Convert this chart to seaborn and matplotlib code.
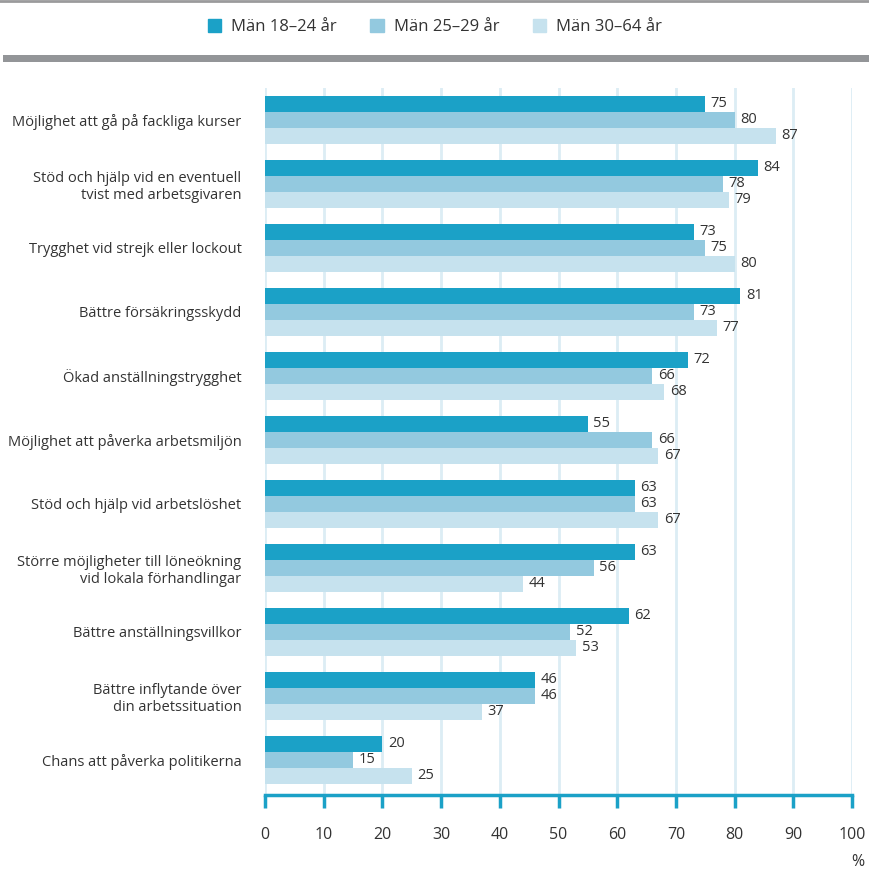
import matplotlib
matplotlib.use("Agg")
import matplotlib.pyplot as plt
import seaborn as sns
import pandas as pd
from matplotlib.patches import Rectangle
from matplotlib.lines import Line2D

categories = [
    "Möjlighet att gå på fackliga kurser",
    "Stöd och hjälp vid en eventuell\ntvist med arbetsgivaren",
    "Trygghet vid strejk eller lockout",
    "Bättre försäkringsskydd",
    "Ökad anställningstrygghet",
    "Möjlighet att påverka arbetsmiljön",
    "Stöd och hjälp vid arbetslöshet",
    "Större möjligheter till löneökning\nvid lokala förhandlingar",
    "Bättre anställningsvillkor",
    "Bättre inflytande över\ndin arbetssituation",
    "Chans att påverka politikerna",
]
series_names = ["Män 18–24 år", "Män 25–29 år", "Män 30–64 år"]
men_18_24 = [75, 84, 73, 81, 72, 55, 63, 63, 62, 46, 20]
men_25_29 = [80, 78, 75, 73, 66, 66, 63, 56, 52, 46, 15]
men_30_64 = [87, 79, 80, 77, 68, 67, 67, 44, 53, 37, 25]
x_ticks = [0, 10, 20, 30, 40, 50, 60, 70, 80, 90, 100]

colors = ["#1ba1c7", "#93c9df", "#c6e2ee"]
text_color = "#333333"
grid_color = "#dcedf4"
axis_color = "#1ba1c7"

df = pd.DataFrame({
    "kategori": categories * 3,
    "grupp": [series_names[0]] * 11 + [series_names[1]] * 11 + [series_names[2]] * 11,
    "andel": men_18_24 + men_25_29 + men_30_64,
})

plt.rcParams["font.family"] = ["Open Sans", "DejaVu Sans"]

fig = plt.figure(figsize=(8.69, 8.71), dpi=100)
ax = fig.add_axes([265 / 869, 1 - 795 / 871, (852 - 265) / 869, (795 - 88) / 871])

sns.barplot(data=df, y="kategori", x="andel", hue="grupp", palette=colors,
            orient="h", width=0.75, ax=ax, legend=False, saturation=1)

for container in ax.containers:
    ax.bar_label(container, padding=4, fontsize=10.5, color=text_color)

ax.set_xlim(0, 100)
ax.set_ylim(10.55, -0.5)
ax.set_xticks(x_ticks)
ax.set_xticklabels([str(t) for t in x_ticks])
ax.set_xlabel("")
ax.set_ylabel("")
ax.grid(axis="x", color=grid_color, linewidth=2)
ax.set_axisbelow(True)
for s in ["top", "right", "left"]:
    ax.spines[s].set_visible(False)
ax.spines["bottom"].set_color(axis_color)
ax.spines["bottom"].set_linewidth(2.5)
ax.tick_params(axis="x", direction="out", length=9, width=2.5, color=axis_color,
               labelsize=11.5, labelcolor=text_color, pad=14)
ax.tick_params(axis="y", length=0, labelsize=10.5, labelcolor=text_color, pad=17)
for lab in ax.get_yticklabels():
    lab.set_horizontalalignment("right")
    lab.set_multialignment("right")

fig.text(858 / 869, 1 - 862 / 871, "%", ha="center", va="center",
         fontsize=11.5, color=text_color)

# header rules
fig.add_artist(Line2D([0, 1], [1 - 1 / 871, 1 - 1 / 871], color="#9a9a9c", linewidth=2,
                      transform=fig.transFigure))
fig.add_artist(Rectangle((3 / 869, 1 - 62 / 871), 1, 7 / 871, color="#939598",
                         transform=fig.transFigure, linewidth=0))

handles = [Rectangle((0, 0), 1, 1, color=c) for c in colors]
fig.legend(handles, series_names, loc="center", bbox_to_anchor=(435 / 869, 1 - 27 / 871),
           ncol=3, frameon=False, fontsize=12, handlelength=0.8, handleheight=0.8,
           columnspacing=2.0, handletextpad=0.6, labelcolor=text_color)

fig.savefig("out.png", dpi=100)
